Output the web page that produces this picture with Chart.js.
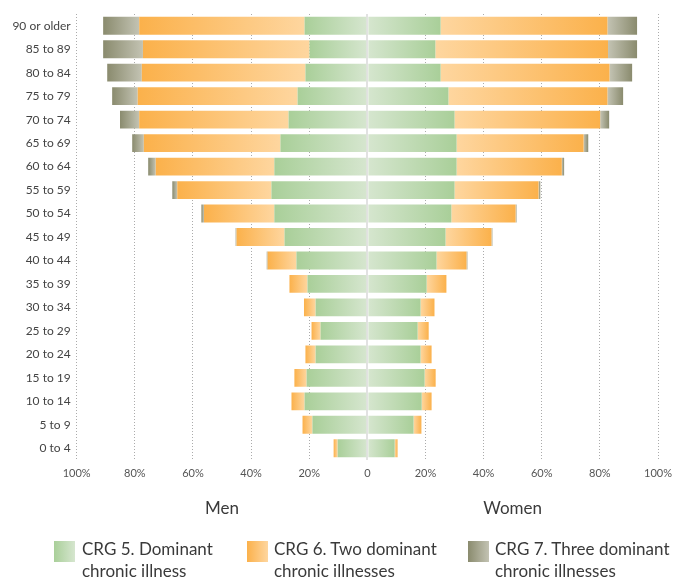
<!DOCTYPE html>
<html>
<head>
<meta charset="utf-8">
<script src="https://cdn.jsdelivr.net/npm/chart.js@4/dist/chart.umd.min.js"></script>
<style>
  html, body { margin: 0; padding: 0; background: #fff; }
  #wrap { position: relative; width: 674px; height: 579px; overflow: hidden; }
  #chart { position: absolute; left: 0; top: 0; }
  .leg-box { position: absolute; width: 21px; height: 21px; top: 541px; }
  .leg-text { position: absolute; top: 538px; font-family: Lato, sans-serif; font-size: 17px;
              line-height: 21.7px; color: #3a3a3a; white-space: nowrap; }
</style>
</head>
<body>
<div id="wrap">
  <canvas id="chart" width="674" height="579"></canvas>
  <div class="leg-box" style="left:54px;background:linear-gradient(to right,#a9cf99,#d6e6cf)"></div>
  <div class="leg-text" style="left:82px">CRG 5. Dominant<br>chronic illness</div>
  <div class="leg-box" style="left:247px;background:linear-gradient(to right,#fbb14b,#fed69f)"></div>
  <div class="leg-text" style="left:274px">CRG 6. Two dominant<br>chronic illnesses</div>
  <div class="leg-box" style="left:468px;background:linear-gradient(to right,#8a8b6e,#c3c3b3)"></div>
  <div class="leg-text" style="left:495px">CRG 7. Three dominant<br>chronic illnesses</div>
</div>
<script>
// Age groups, oldest at the top
const ageGroups = ['90 or older', '85 to 89', '80 to 84', '75 to 79', '70 to 74', '65 to 69',
  '60 to 64', '55 to 59', '50 to 54', '45 to 49', '40 to 44', '35 to 39', '30 to 34',
  '25 to 29', '20 to 24', '15 to 19', '10 to 14', '5 to 9', '0 to 4'];

// Share of each age group (%) by clinical risk group
const menCrg5 = [21.6, 19.9, 21.3, 24.0, 27.1, 29.9, 32.0, 33.0, 32.0, 28.5, 24.4, 20.6, 17.8, 16.1, 17.8, 20.9, 21.6, 18.9, 10.2];
const menCrg6 = [56.9, 57.3, 56.3, 55.0, 51.4, 47.0, 40.8, 32.4, 24.2, 16.5, 9.9, 6.2, 4.0, 3.1, 3.5, 4.2, 4.5, 3.4, 1.4];
const menCrg7 = [12.4, 13.7, 11.9, 8.8, 6.6, 4.0, 2.6, 1.7, 0.9, 0.3, 0.3, 0, 0, 0, 0, 0, 0, 0, 0];

const womenCrg5 = [25.2, 23.4, 25.2, 27.9, 30.0, 30.7, 30.7, 30.0, 28.9, 26.9, 23.8, 20.4, 18.3, 17.3, 18.3, 19.7, 18.7, 15.9, 9.4];
const womenCrg6 = [57.4, 59.4, 58.1, 54.7, 50.1, 43.7, 36.2, 28.9, 22.1, 15.8, 10.3, 6.8, 4.8, 3.8, 3.8, 3.8, 3.4, 2.7, 1.0];
const womenCrg7 = [10.2, 10.0, 7.8, 5.4, 3.1, 1.6, 0.8, 0.6, 0.3, 0.3, 0.3, 0, 0, 0, 0, 0, 0, 0, 0];

const xTickLabels = ['100%', '80%', '60%', '40%', '20%', '0', '20%', '40%', '60%', '80%', '100%'];
const sideTitles = ['Men', 'Women'];

// Gradient colours per group: [inner (light), outer (dark)]
const palette = {
  crg5: ['#d6e6cf', '#a9cf99'],
  crg6: ['#fed69f', '#fbb14b'],
  crg7: ['#c3c3b3', '#8a8b6e']
};

// Turn the stacked shares into floating [start, end] segments; men run to the left
function segments(layers, sign) {
  return layers.map((layer, li) => layer.map((v, i) => {
    let start = 0;
    for (let k = 0; k < li; k++) start += layers[k][i];
    return [sign * start, sign * (start + v)];
  }));
}
const menSeg = segments([menCrg5, menCrg6, menCrg7], -1);
const womenSeg = segments([womenCrg5, womenCrg6, womenCrg7], 1);

// Each bar fades from light at its inner edge to dark at its outer edge
function gradientFill(colors) {
  return (ctx) => {
    const chart = ctx.chart;
    if (!chart.chartArea || ctx.type !== 'data') return colors[1];
    const seg = ctx.raw;
    const x = chart.scales.x;
    const x0 = x.getPixelForValue(seg[0]);
    const x1 = x.getPixelForValue(seg[1]);
    if (Math.abs(x1 - x0) < 0.5) return colors[1];
    const g = chart.ctx.createLinearGradient(x0, 0, x1, 0);
    g.addColorStop(0, colors[0]);
    g.addColorStop(1, colors[1]);
    return g;
  };
}

function ds(label, data, colors) {
  return {
    label, data,
    backgroundColor: gradientFill(colors),
    borderWidth: 0,
    grouped: false,
    categoryPercentage: 1,
    barPercentage: 0.76
  };
}

const datasets = [
  ds('CRG 5. Dominant chronic illness', menSeg[0], palette.crg5),
  ds('CRG 6. Two dominant chronic illnesses', menSeg[1], palette.crg6),
  ds('CRG 7. Three dominant chronic illnesses', menSeg[2], palette.crg7),
  ds('CRG 5. Dominant chronic illness', womenSeg[0], palette.crg5),
  ds('CRG 6. Two dominant chronic illnesses', womenSeg[1], palette.crg6),
  ds('CRG 7. Three dominant chronic illnesses', womenSeg[2], palette.crg7)
];

// "Men" / "Women" captions centred under each half of the axis
const sideTitlePlugin = {
  id: 'sideTitles',
  afterDraw(chart) {
    const { ctx, chartArea, scales } = chart;
    const mid = scales.x.getPixelForValue(0);
    ctx.save();
    ctx.font = '17px Lato, sans-serif';
    ctx.fillStyle = '#3a3a3a';
    ctx.textAlign = 'center';
    ctx.textBaseline = 'middle';
    ctx.fillText(sideTitles[0], (chartArea.left + mid) / 2, 509);
    ctx.fillText(sideTitles[1], (mid + chartArea.right) / 2, 509);
    ctx.restore();
  }
};

new Chart(document.getElementById('chart'), {
  type: 'bar',
  data: { labels: ageGroups, datasets },
  plugins: [sideTitlePlugin],
  options: {
    indexAxis: 'y',
    responsive: false,
    animation: false,
    layout: { padding: { left: 0, right: 16, top: 14, bottom: 97 } },
    plugins: { legend: { display: false }, tooltip: { enabled: false } },
    scales: {
      x: {
        min: -100, max: 100,
        afterFit(scale) {
          scale.height = 22;
          scale.paddingLeft = 0;
          scale.paddingRight = 0;
        },
        ticks: {
          stepSize: 20,
          padding: 7,
          color: '#555',
          font: { family: 'Lato, sans-serif', size: 11 },
          callback: (v, i) => xTickLabels[i]
        },
        grid: {
          drawTicks: false,
          color: (c) => (c.tick && c.tick.value === 0 ? '#e2e2e2' : '#ababab'),
          lineWidth: (c) => (c.tick && c.tick.value === 0 ? 2 : 1)
        },
        border: {
          display: false,
          dash: (c) => (c.tick && c.tick.value === 0 ? [] : [1, 2])
        }
      },
      y: {
        afterFit(scale) { scale.width = 76.7; },
        grid: { display: false, drawTicks: false },
        border: { display: false },
        ticks: {
          padding: 6,
          color: '#444',
          font: { family: 'Lato, sans-serif', size: 12 }
        }
      }
    }
  }
});
</script>
</body>
</html>
